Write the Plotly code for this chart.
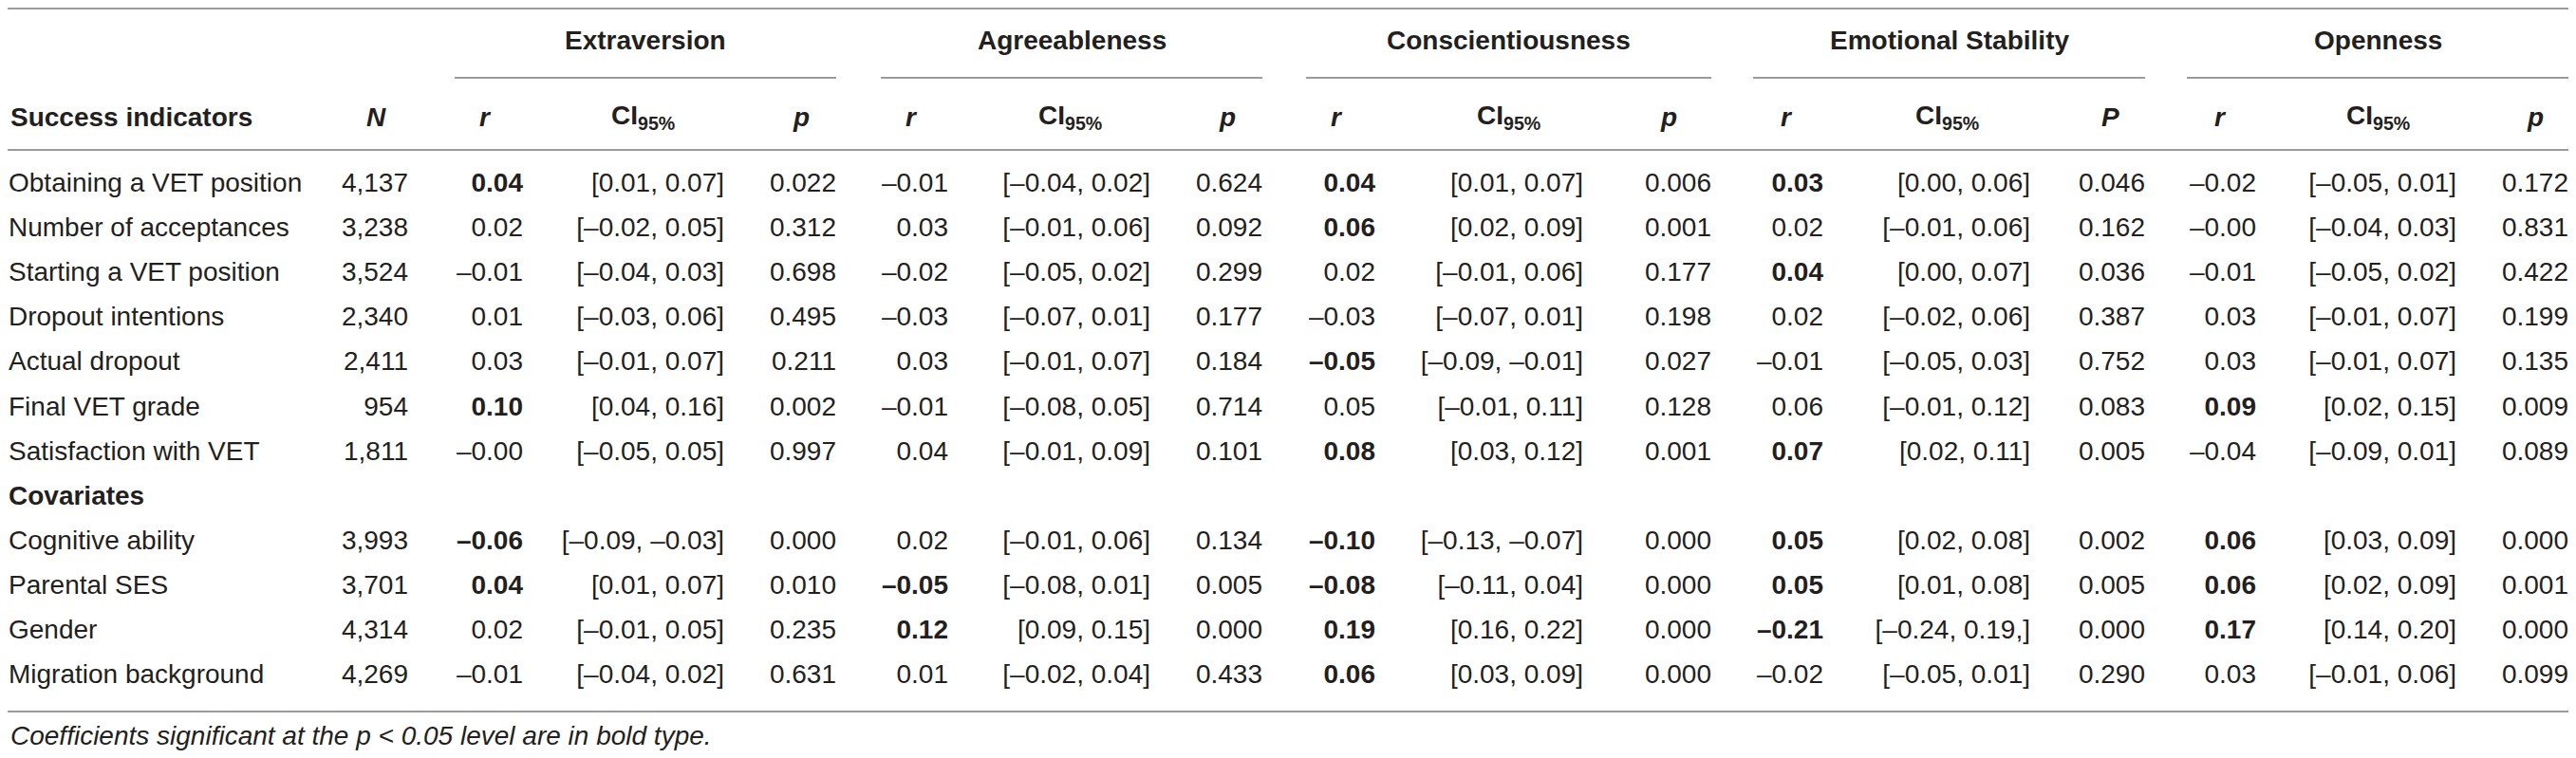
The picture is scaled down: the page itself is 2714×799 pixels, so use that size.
import plotly.graph_objects as go

# rows of the table
indicators = ["Obtaining a VET position", "Number of acceptances", "Starting a VET position",
              "Dropout intentions", "Actual dropout", "Final VET grade", "Satisfaction with VET"]
covariates = ["Cognitive ability", "Parental SES", "Gender", "Migration background"]
n_values = [4137, 3238, 3524, 2340, 2411, 954, 1811, 3993, 3701, 4314, 4269]

traits = ["Extraversion", "Agreeableness", "Conscientiousness", "Emotional Stability", "Openness"]
p_labels = ["p", "p", "p", "P", "p"]

# correlations, confidence intervals and p values per trait
extraversion_r = [0.04, 0.02, -0.01, 0.01, 0.03, 0.10, -0.0, -0.06, 0.04, 0.02, -0.01]
extraversion_ci = ["[0.01, 0.07]", "[-0.02, 0.05]", "[-0.04, 0.03]", "[-0.03, 0.06]", "[-0.01, 0.07]",
                   "[0.04, 0.16]", "[-0.05, 0.05]", "[-0.09, -0.03]", "[0.01, 0.07]", "[-0.01, 0.05]",
                   "[-0.04, 0.02]"]
extraversion_p = [0.022, 0.312, 0.698, 0.495, 0.211, 0.002, 0.997, 0.000, 0.010, 0.235, 0.631]

agreeableness_r = [-0.01, 0.03, -0.02, -0.03, 0.03, -0.01, 0.04, 0.02, -0.05, 0.12, 0.01]
agreeableness_ci = ["[-0.04, 0.02]", "[-0.01, 0.06]", "[-0.05, 0.02]", "[-0.07, 0.01]", "[-0.01, 0.07]",
                    "[-0.08, 0.05]", "[-0.01, 0.09]", "[-0.01, 0.06]", "[-0.08, 0.01]", "[0.09, 0.15]",
                    "[-0.02, 0.04]"]
agreeableness_p = [0.624, 0.092, 0.299, 0.177, 0.184, 0.714, 0.101, 0.134, 0.005, 0.000, 0.433]

conscientiousness_r = [0.04, 0.06, 0.02, -0.03, -0.05, 0.05, 0.08, -0.10, -0.08, 0.19, 0.06]
conscientiousness_ci = ["[0.01, 0.07]", "[0.02, 0.09]", "[-0.01, 0.06]", "[-0.07, 0.01]", "[-0.09, -0.01]",
                        "[-0.01, 0.11]", "[0.03, 0.12]", "[-0.13, -0.07]", "[-0.11, 0.04]", "[0.16, 0.22]",
                        "[0.03, 0.09]"]
conscientiousness_p = [0.006, 0.001, 0.177, 0.198, 0.027, 0.128, 0.001, 0.000, 0.000, 0.000, 0.000]

stability_r = [0.03, 0.02, 0.04, 0.02, -0.01, 0.06, 0.07, 0.05, 0.05, -0.21, -0.02]
stability_ci = ["[0.00, 0.06]", "[-0.01, 0.06]", "[0.00, 0.07]", "[-0.02, 0.06]", "[-0.05, 0.03]",
                "[-0.01, 0.12]", "[0.02, 0.11]", "[0.02, 0.08]", "[0.01, 0.08]", "[-0.24, 0.19,]",
                "[-0.05, 0.01]"]
stability_p = [0.046, 0.162, 0.036, 0.387, 0.752, 0.083, 0.005, 0.002, 0.005, 0.000, 0.290]

openness_r = [-0.02, -0.0, -0.01, 0.03, 0.03, 0.09, -0.04, 0.06, 0.06, 0.17, 0.03]
openness_ci = ["[-0.05, 0.01]", "[-0.04, 0.03]", "[-0.05, 0.02]", "[-0.01, 0.07]", "[-0.01, 0.07]",
               "[0.02, 0.15]", "[-0.09, 0.01]", "[0.03, 0.09]", "[0.02, 0.09]", "[0.14, 0.20]",
               "[-0.01, 0.06]"]
openness_p = [0.172, 0.831, 0.422, 0.199, 0.135, 0.009, 0.089, 0.000, 0.001, 0.000, 0.099]

footnote = "Coefficients significant at the p < 0.05 level are in bold type."

# ---- layout (screen pixel units on hidden axes) ----
W, H = 2714, 799
PAD = 8  # default page margin around the plot div
FONT = "Arial, Liberation Sans, sans-serif"
INK = "#231f20"
RULE = "#9b9b9b"
SIZE = 28

row0, pitch = 195, 47.1
label_x = 9
n_right, n_head = 430, 396
r_right = [551, 999, 1449, 1921, 2377]
ci_right = [763, 1212, 1668, 2139, 2588]
p_right = [881, 1330, 1803, 2260, 2706]
r_head = [511, 960, 1408, 1882, 2339]
ci_head = [677, 1127, 1589, 2051, 2505]
p_head = [844, 1293, 1758, 2223, 2671]
spans = [(479, 881), (928, 1330), (1376, 1803), (1847, 2260), (2304, 2706)]
y_top, y_group, y_under, y_head, y_rule, y_bottom, y_note = 9, 42, 82, 123, 158, 750, 775

all_r = [extraversion_r, agreeableness_r, conscientiousness_r, stability_r, openness_r]
all_ci = [extraversion_ci, agreeableness_ci, conscientiousness_ci, stability_ci, openness_ci]
all_p = [extraversion_p, agreeableness_p, conscientiousness_p, stability_p, openness_p]

n_ind = len(indicators)
# slot 7 is the "Covariates" sub-heading
row_y = [row0 + pitch * (k if k < n_ind else k + 1) for k in range(len(n_values))]
cov_y = row0 + pitch * n_ind


def dash(s):
    return s.replace("-", "\u2013")


def fmt_r(v, p):
    s = dash(f"{v:.2f}")
    return f"<b>{s}</b>" if p < 0.05 else s


fig = go.Figure()


def text_col(x, ys, texts, pos="middle left"):
    fig.add_trace(go.Scatter(
        x=[x] * len(ys), y=ys, text=texts, mode="text", textposition=pos,
        textfont=dict(family=FONT, size=SIZE, color=INK), cliponaxis=False,
        hoverinfo="skip", showlegend=False))


text_col(label_x, row_y, indicators + covariates, pos="middle right")
text_col(label_x, [cov_y], ["<b>Covariates</b>"], pos="middle right")
text_col(n_right, row_y, [f"{n:,}" for n in n_values])

for i in range(len(traits)):
    text_col(r_right[i], row_y, [fmt_r(v, p) for v, p in zip(all_r[i], all_p[i])])
    text_col(ci_right[i], row_y, [dash(c) for c in all_ci[i]])
    text_col(p_right[i], row_y, [f"{p:.3f}" for p in all_p[i]])


def note(x, y, text, anchor="center", size=SIZE):
    fig.add_annotation(x=x, y=y, xref="x", yref="y", text=text, showarrow=False,
                       xanchor=anchor, yanchor="middle",
                       font=dict(family=FONT, size=size, color=INK))


# headers
note(label_x, y_head, "<b>Success indicators</b>", anchor="left")
note(n_head, y_head, "<b><i>N</i></b>")
for i, t in enumerate(traits):
    a, b = spans[i]
    note((a + b) / 2, y_group, f"<b>{t}</b>")
    note(r_head[i], y_head, "<b><i>r</i></b>")
    note(ci_head[i], y_head, "<b>CI<sub>95%</sub></b>")
    note(p_head[i], y_head, f"<b><i>{p_labels[i]}</i></b>")
    fig.add_shape(type="line", x0=a, x1=b, y0=y_under, y1=y_under,
                  xref="x", yref="y", line=dict(color=RULE, width=2))

note(label_x, y_note, f"<i>{footnote.replace('<', '&lt;')}</i>", anchor="left")

# horizontal rules
for y in (y_top, y_rule, y_bottom):
    fig.add_shape(type="line", x0=PAD, x1=W - PAD, y0=y, y1=y, xref="x", yref="y",
                  line=dict(color=RULE, width=2))

fig.update_layout(
    width=W - 2 * PAD, height=H - 2 * PAD,
    margin=dict(l=0, r=0, t=0, b=0),
    paper_bgcolor="white", plot_bgcolor="white",
    xaxis=dict(range=[PAD, W - PAD], visible=False, fixedrange=True),
    yaxis=dict(range=[H - PAD, PAD], visible=False, fixedrange=True),
    showlegend=False,
)

fig.write_html("out.html")
